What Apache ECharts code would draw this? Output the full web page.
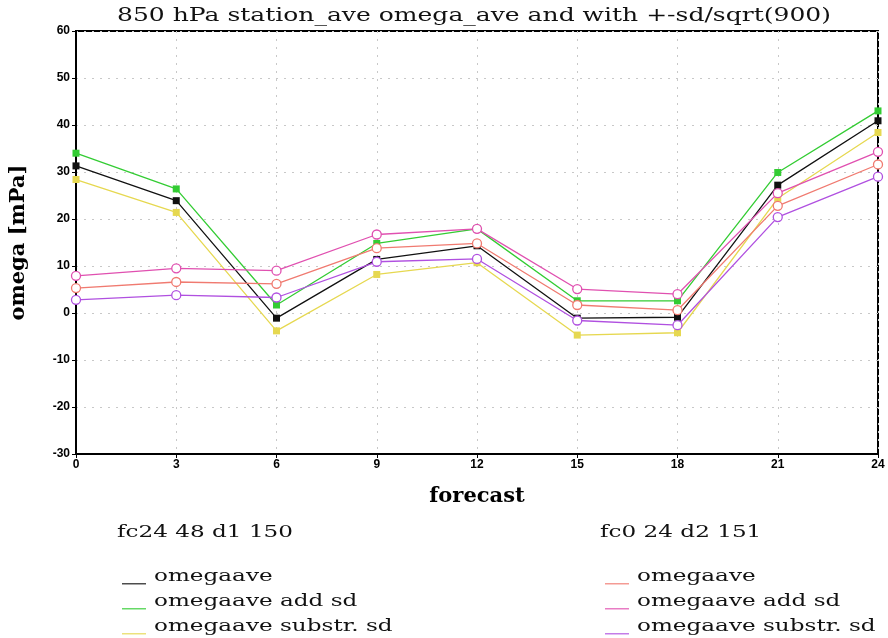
<!DOCTYPE html>
<html>
<head>
<meta charset="utf-8">
<script src="https://cdn.jsdelivr.net/npm/echarts@6/dist/echarts.min.js"></script>
<style>
  html, body { margin: 0; padding: 0; background: #fff; }
  #main { width: 888px; height: 638px; }
</style>
</head>
<body>
<div id="main"></div>
<script>
// forecast hours
const forecast = [0, 3, 6, 9, 12, 15, 18, 21, 24];
// fc24 48 d1 150
const d1Ave = [31.3, 23.9, -1.1, 11.4, 14.3, -1.1, -0.9, 27.2, 40.9];
const d1Add = [34.0, 26.4, 1.7, 14.8, 17.9, 2.6, 2.6, 29.9, 43.0];
const d1Sub = [28.4, 21.4, -3.8, 8.2, 10.7, -4.7, -4.2, 24.4, 38.4];
// fc0 24 d2 151
const d2Ave = [5.3, 6.6, 6.2, 13.8, 14.8, 1.7, 0.6, 22.8, 31.6];
const d2Add = [7.9, 9.5, 9.0, 16.7, 17.9, 5.1, 4.0, 25.5, 34.3];
const d2Sub = [2.8, 3.8, 3.3, 10.9, 11.5, -1.6, -2.6, 20.4, 29.0];

const labels = ['omegaave', 'omegaave add sd', 'omegaave substr. sd'];
const groupTitles = ['fc24 48 d1 150', 'fc0 24 d2 151'];
const colorsD1 = ['#111111', '#33cc33', '#e6d850'];
const colorsD2 = ['#f07a70', '#e050b0', '#b050e0'];

const serif = '"DejaVu Serif", "Liberation Serif", serif';
const tickFont = '"Liberation Sans Narrow", "Liberation Sans", Arial, sans-serif';
const stretch = 1.36; // the original text is drawn wide

function pairs(ys) {
  return forecast.map((x, i) => [x, ys[i]]);
}

function squareSeries(name, ys, color) {
  return {
    name: name, type: 'line', data: pairs(ys),
    symbol: 'rect', symbolSize: 7,
    lineStyle: { color: color, width: 1.3 },
    itemStyle: { color: color },
    z: 2
  };
}
function circleSeries(name, ys, color) {
  return {
    name: name, type: 'line', data: pairs(ys),
    symbol: 'circle', symbolSize: 9,
    lineStyle: { color: color, width: 1.3 },
    itemStyle: { color: '#fff', borderColor: color, borderWidth: 1.3 },
    z: 3
  };
}

// series names in the second group get a trailing space so they stay distinct
const namesD1 = labels.slice();
const namesD2 = labels.map(s => s + ' ');

// one legend entry per row, text drawn separately (stretched like the original)
const legends = [];
const legendTexts = [];
[[namesD1, colorsD1, 117], [namesD2, colorsD2, 600]].forEach(([names, colors, left]) => {
  names.forEach((n, i) => {
    legends.push({
      left: left, top: 578 + i * 25,
      itemWidth: 24, itemHeight: 1.5, icon: 'rect',
      formatter: () => '',
      selectedMode: false,
      data: [{ name: n, itemStyle: { color: colors[i], borderWidth: 0, opacity: 0.75 } }]
    });
    legendTexts.push({
      type: 'text', x: left + 37, y: 577 + i * 25, scaleX: stretch,
      style: { text: labels[i], fontFamily: serif, fontSize: 17, fill: '#111', verticalAlign: 'middle' }
    });
  });
});

const chart = echarts.init(document.getElementById('main'));

const option = {
  backgroundColor: '#fff',
  animation: false,
  grid: {
    left: 75, right: 10, top: 31, bottom: 184,
    show: true, borderColor: '#000', borderWidth: 2
  },
  xAxis: {
    type: 'value', min: 0, max: 24, interval: 3,
    name: 'forecast', nameLocation: 'middle', nameGap: 32,
    nameTextStyle: { fontFamily: serif, fontSize: 21, fontWeight: 'bold', color: '#000' },
    axisLine: { onZero: false, lineStyle: { color: '#000', width: 2 } },
    axisTick: { show: true, length: 4, lineStyle: { color: '#000' } },
    axisLabel: { fontFamily: tickFont, fontWeight: 'bold', fontSize: 12, color: '#000', margin: 5 },
    splitLine: { show: true, lineStyle: { color: '#c8c8c8', type: [2, 6] } }
  },
  yAxis: {
    type: 'value', min: -30, max: 60, interval: 10,
    name: 'omega [mPa]', nameLocation: 'middle', nameGap: 47, nameRotate: 90,
    nameTextStyle: { fontFamily: serif, fontSize: 21, fontWeight: 'bold', color: '#000' },
    axisLine: { onZero: false, lineStyle: { color: '#000', width: 2 } },
    axisTick: { show: true, length: 4, lineStyle: { color: '#000' } },
    axisLabel: { fontFamily: tickFont, fontWeight: 'bold', fontSize: 12, color: '#000', margin: 6 },
    splitLine: { show: true, lineStyle: { color: '#c8c8c8', type: [2, 6] } }
  },
  legend: legends,
  graphic: [
    {
      type: 'text', x: 474, y: 16, scaleX: 1.39,
      style: {
        text: '850 hPa station_ave omega_ave and with +-sd/sqrt(900)',
        fontFamily: serif, fontSize: 18, fill: '#111', align: 'center', verticalAlign: 'middle'
      }
    },
    {
      type: 'text', x: 117, y: 533, scaleX: stretch,
      style: { text: groupTitles[0], fontFamily: serif, fontSize: 17, fill: '#111', verticalAlign: 'middle' }
    },
    {
      type: 'text', x: 600, y: 533, scaleX: stretch,
      style: { text: groupTitles[1], fontFamily: serif, fontSize: 17, fill: '#111', verticalAlign: 'middle' }
    }
  ].concat(legendTexts),
  series: [
    squareSeries(namesD1[0], d1Ave, colorsD1[0]),
    squareSeries(namesD1[1], d1Add, colorsD1[1]),
    squareSeries(namesD1[2], d1Sub, colorsD1[2]),
    circleSeries(namesD2[0], d2Ave, colorsD2[0]),
    circleSeries(namesD2[1], d2Add, colorsD2[1]),
    circleSeries(namesD2[2], d2Sub, colorsD2[2])
  ]
};

chart.setOption(option);
</script>
</body>
</html>
